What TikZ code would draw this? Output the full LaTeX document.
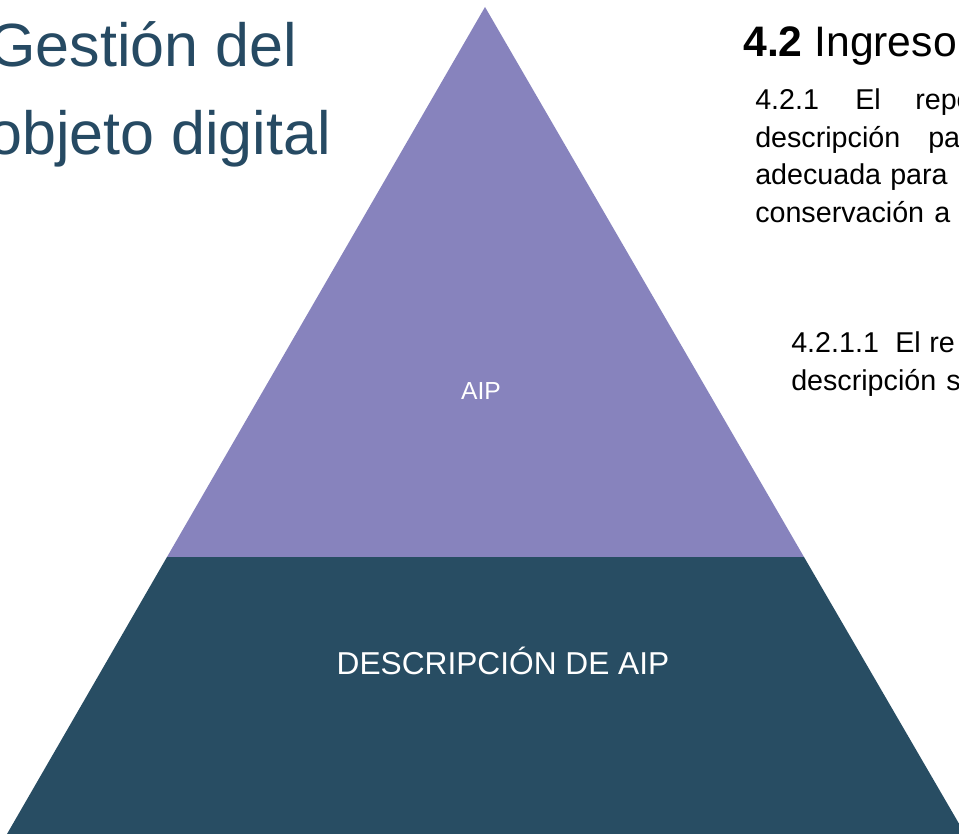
\documentclass[tikz,border=0pt]{standalone}
\usepackage{fontspec}
\setmainfont{Liberation Sans}
\definecolor{pyrpurple}{HTML}{8783BD}
\definecolor{pyrdark}{HTML}{284D63}
\definecolor{titleblue}{HTML}{264A63}
\newcommand{\pxfont}[1]{\fontsize{#1}{#1}\selectfont}
\tikzset{
  txt/.style={inner sep=0pt, anchor=base west},
  title/.style={txt, text=titleblue, font=\pxfont{45.75pt}},
  heading/.style={txt, text=black, font=\pxfont{32pt}},
  body/.style={txt, text=black, font=\pxfont{21.5pt}},
  label/.style={inner sep=0pt, anchor=base, text=white},
}
\begin{document}
\begin{tikzpicture}[x=0.75pt, y=-0.75pt]
\clip (0,0) rectangle (959,834);
\fill[white] (0,0) rectangle (959,834);
% pyramid
\coordinate (apex) at (485,7);
\coordinate (ml) at (167,557);
\coordinate (mr) at (804,557);
\coordinate (bl) at (7,834);
\coordinate (br) at (965,834);
\fill[pyrpurple] (apex) -- (ml) -- (mr) -- cycle;
\fill[pyrdark] (ml) -- (mr) -- (br) -- (bl) -- cycle;
\node[label, font=\pxfont{18.5pt}] (aip) at (481,399) {AIP};
\node[label, font=\pxfont{23.75pt}] (desc) at (503,674) {DESCRIPCIÓN DE AIP};
% title
\node[title] (t1) at (-12,67) {Gestión del};
\node[title] (t2) at (-12,155) {objeto digital};
% heading
\node[heading] (h) at (743,57) {\textbf{4.2} Ingreso};
% paragraph 1
\node[body] (p1a) at (755,110) {4.2.1};
\node[body] (p1b) at (855,110) {El};
\node[body] (p1c) at (915,110) {repo};
\node[body] (p2a) at (755,147.5) {descripción};
\node[body] (p2b) at (928,147.5) {pa};
\node[body] (p3a) at (755,185) {adecuada};
\node[body] (p3b) at (890,185) {para};
\node[body] (p4a) at (755,222.5) {conservación};
\node[body] (p4b) at (934,222.5) {a};
% paragraph 2
\node[body] (q1a) at (791,352) {4.2.1.1};
\node[body] (q1b) at (895,352) {El};
\node[body] (q1c) at (929,352) {re};
\node[body] (q2a) at (791,390) {descripción};
\node[body] (q2b) at (946,390) {s};
\end{tikzpicture}
\end{document}
